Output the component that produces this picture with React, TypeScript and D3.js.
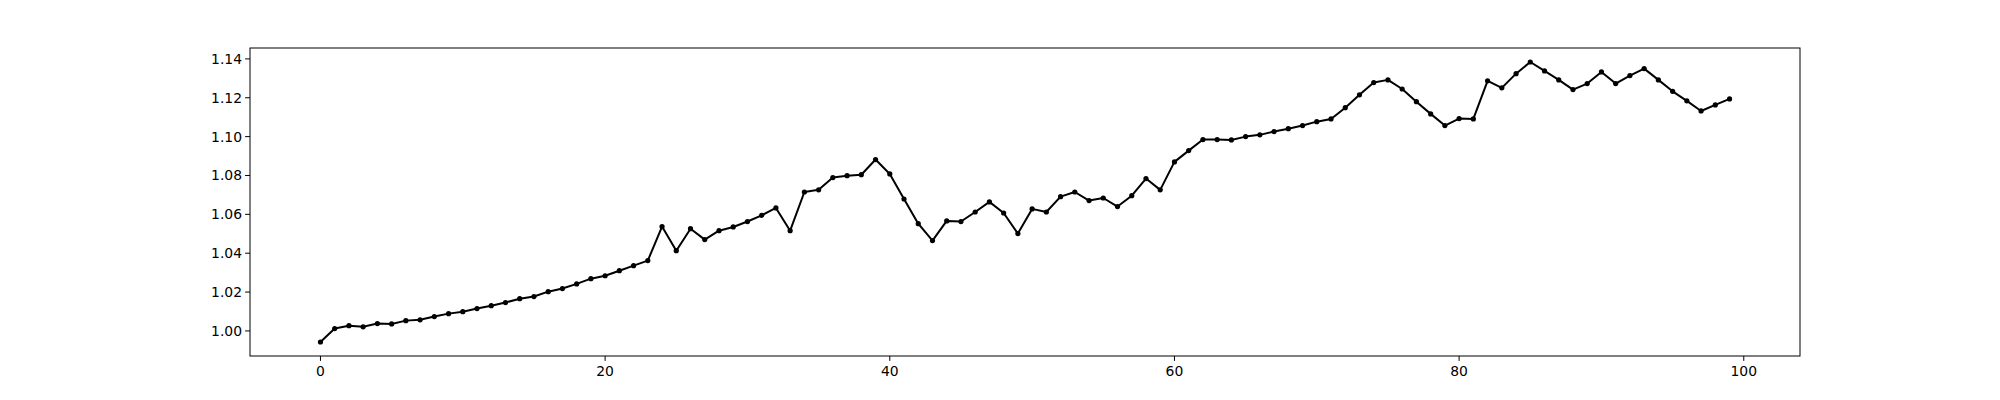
import React from "react";
import * as d3 from "d3";

const values: number[] = [
  0.9943, 1.0012, 1.0027, 1.0021, 1.0038, 1.0036, 1.0053, 1.0057, 1.0074, 1.0089,
  1.0099, 1.0115, 1.013, 1.0146, 1.0166, 1.0177, 1.0202, 1.0218, 1.0242, 1.0269,
  1.0284, 1.031, 1.0336, 1.0362, 1.0537, 1.0413, 1.0526, 1.047, 1.0516, 1.0535,
  1.0563, 1.0595, 1.0633, 1.0516, 1.0715, 1.0726, 1.0789, 1.0799, 1.0804, 1.0882,
  1.0808, 1.0679, 1.0552, 1.0465, 1.0566, 1.0563, 1.0612, 1.0664, 1.0607, 1.0501,
  1.0628, 1.0612, 1.0691, 1.0715, 1.0671, 1.0684, 1.064, 1.0696, 1.0784, 1.0726,
  1.087, 1.0928, 1.0985, 1.0985, 1.0983, 1.1, 1.1009, 1.1026, 1.1041, 1.1057,
  1.1077, 1.1091, 1.1149, 1.1215, 1.1278, 1.1292, 1.1245, 1.118, 1.1117, 1.1057,
  1.1093, 1.1091, 1.1287, 1.1251, 1.1324, 1.1384, 1.1338, 1.1292, 1.1242, 1.1273,
  1.1333, 1.1273, 1.1314, 1.135, 1.1292, 1.1233, 1.1184, 1.1132, 1.1163, 1.1194,
];
const xTicks = [0, 20, 40, 60, 80, 100];
const yTicks = [1.0, 1.02, 1.04, 1.06, 1.08, 1.1, 1.12, 1.14];

export default function App() {
  const W = 2000, H = 400;
  const L = 250, R = 1800, T = 48, B = 356;
  const n = values.length;
  const xPad = (n - 1) * 0.05;
  const x = d3.scaleLinear().domain([-xPad, n - 1 + xPad]).range([L, R]);
  const mn = d3.min(values)!, mx = d3.max(values)!;
  const yPad = (mx - mn) * 0.05;
  const y = d3.scaleLinear().domain([mn - yPad, mx + yPad]).range([B, T]);
  const line = d3.line<number>().x((_, i) => x(i)).y((d) => y(d));
  const font = "DejaVu Sans";
  return (
    <svg width={W} height={H} style={{ position: "absolute", left: 0, top: 0 }}>
      <rect width={W} height={H} fill="white" />
      <path d={line(values)!} fill="none" stroke="black" strokeWidth={2} strokeLinejoin="round" />
      {values.map((v, i) => (
        <circle key={i} cx={x(i)} cy={y(v)} r={2.6} fill="black" />
      ))}
      <rect x={L} y={T} width={R - L} height={B - T} fill="none" stroke="black" strokeWidth={1} />
      {xTicks.map((t) => (
        <g key={t}>
          <line x1={x(t)} x2={x(t)} y1={B} y2={B + 4.9} stroke="black" />
          <text x={x(t)} y={B + 20} textAnchor="middle" fontFamily={font} fontSize={13.9}>{t}</text>
        </g>
      ))}
      {yTicks.map((t) => (
        <g key={t}>
          <line x1={L - 4.9} x2={L} y1={y(t)} y2={y(t)} stroke="black" />
          <text x={L - 8} y={y(t) + 5} textAnchor="end" fontFamily={font} fontSize={13.9}>{t.toFixed(2)}</text>
        </g>
      ))}
    </svg>
  );
}
